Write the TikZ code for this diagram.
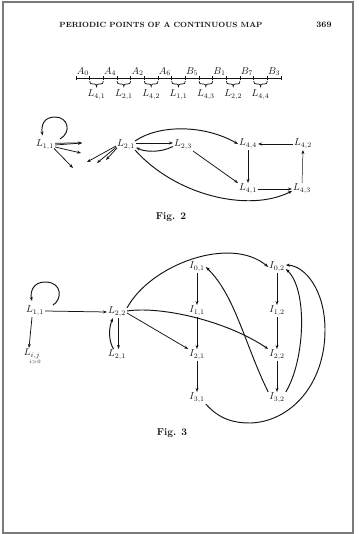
\documentclass[tikz,border=0pt]{standalone}
\usepackage{graphicx}
\usetikzlibrary{arrows.meta}
\definecolor{ink}{HTML}{141414}
\definecolor{framec}{HTML}{7A7A7A}
\begin{document}
\begin{tikzpicture}[x=1pt,y=-1pt,
  lbl/.style={inner sep=1pt, font=\fontsize{10}{12}\selectfont, text=ink},
  hdr/.style={inner sep=0pt, text=ink},
  arr/.style={draw=ink, line width=0.75pt, -{Stealth[length=4pt,width=3pt]}},
  carr/.style={arr, line width=0.95pt},
  thinarr/.style={arr, line width=0.5pt},
  axis/.style={draw=ink, line width=0.8pt},
  bracestyle/.style={draw=ink, line width=0.7pt}]
\useasboundingbox (0,0) rectangle (358,534);
\fill[white] (0,0) rectangle (358,534);
\draw[framec, line width=1.2pt] (3,2) rectangle (353,533);

% header
\node[hdr] (title) at (161,25) {\resizebox{203pt}{!}{\fontsize{7.5}{9}\selectfont\bfseries PERIODIC POINTS OF A CONTINUOUS MAP}};
\node[hdr] (page) at (324,25) {\fontsize{8.5}{10}\selectfont\bfseries 369};

% number line
\draw[axis] (76,78.5) -- (281,78.5);
\foreach \k in {0,...,15} \draw[axis] ({76+13.667*\k},76.5) -- ({76+13.667*\k},80.5);
\foreach \k in {1,3,...,13} {
  \pgfmathsetmacro{\xa}{76+13.667*\k}
  \pgfmathsetmacro{\xb}{76+13.667*(\k+1)}
  \pgfmathsetmacro{\xm}{76+13.667*(\k+0.5)}
  \draw[bracestyle] (\xa,81) .. controls (\xa,83.5) and (\xa+1,84) .. (\xa+3,84) -- (\xm-2,84)
     .. controls (\xm-0.7,84) and (\xm,85) .. (\xm,86.5)
     .. controls (\xm,85) and (\xm+0.7,84) .. (\xm+2,84) -- (\xb-3,84)
     .. controls (\xb-1,84) and (\xb,83.5) .. (\xb,81);
}
\foreach \lab [count=\m from 0] in {A_0,A_4,A_2,A_6,B_5,B_1,B_7,B_3}
  \node[lbl] (pt\m) at ({76+13.667*(2*\m+0.5)},71.5) {$\lab$};
\foreach \lab [count=\m from 0] in {L_{4,1},L_{2,1},L_{4,2},L_{1,1},L_{4,3},L_{2,2},L_{4,4}}
  \node[lbl] (iv\m) at ({76+13.667*(2*\m+1.5)},95) {$\lab$};

% ---------- Fig. 2 ----------
\node[lbl] (a11) at (45,145) {$L_{1,1}$};
\node[lbl] (b21) at (126,145) {$L_{2,1}$};
\node[lbl] (b23) at (183,145) {$L_{2,3}$};
\node[lbl] (b44) at (248,144) {$L_{4,4}$};
\node[lbl] (b42) at (303,144) {$L_{4,2}$};
\node[lbl] (b41) at (248,189) {$L_{4,1}$};
\node[lbl] (b43) at (302,189) {$L_{4,3}$};

\coordinate (la) at (60,139);
\draw[carr] (la) .. controls (72,132) and (68,117) .. (55,117) .. controls (44,117) and (41,125) .. (42.5,135.5);

\coordinate (f1) at (82,143);
\coordinate (f2) at (81,153);
\coordinate (f3) at (73,168);
\draw[arr] ([yshift=1.8pt]a11.east) -- (f1);
\draw[arr] ([yshift=0pt]a11.east) -- (f1);
\draw[arr] ([yshift=-2pt]a11.east) -- (f2);
\draw[arr] ([yshift=-3.5pt,xshift=-1pt]a11.east) -- (f3);

\coordinate (g1) at (87,162);
\coordinate (g2) at (97,163);
\coordinate (g3) at (106,160);
\draw[arr] ([yshift=-1pt]b21.west) -- (g1);
\draw[arr] ([yshift=-2pt,xshift=0.5pt]b21.west) -- (g2);
\draw[arr] ([yshift=-3pt,xshift=1pt]b21.west) -- (g3);

\draw[arr] ([yshift=2pt]b21.east) -- ([yshift=2pt]b23.west);
\draw[carr] ([yshift=-1.5pt]b23.west) .. controls (160,153) and (145,152) .. ([yshift=-2.5pt]b21.east);
\draw[carr] ([yshift=4pt,xshift=-1pt]b21.east) .. controls (160,124) and (205,125) .. (b44.west);
\draw[carr] ([yshift=-5pt,xshift=-1pt]b21.east) .. controls (175,195) and (248,213) .. ([yshift=-2pt]b43.west);
\draw[arr] (b23.south east) -- (b41.north west);
\draw[arr] (b42.west) -- (b44.east);
\draw[arr] (b44.south) -- (b41.north);
\draw[arr] (b41.east) -- (b43.west);
\draw[thinarr] (b43.north) -- (b42.south);

\node[lbl, font=\fontsize{10}{12}\selectfont\bfseries] (fig2) at (171,217) {Fig. 2};

% ---------- Fig. 3 ----------
\node[lbl] (c11) at (35,311) {$L_{1,1}$};
\node[lbl] (c22) at (117,312) {$L_{2,2}$};
\node[lbl] (c21) at (117,355) {$L_{2,1}$};
\node[lbl] (cij) at (32,354) {$L_{i,j}$};
\node[lbl, inner sep=0pt] (cijc) at (35,362.5) {$\scriptscriptstyle i>0$};

\node[lbl] (i01) at (197,267) {$I_{0,1}$};
\node[lbl] (i11) at (197,311) {$I_{1,1}$};
\node[lbl] (i21) at (197,355) {$I_{2,1}$};
\node[lbl] (i31) at (197,398) {$I_{3,1}$};
\node[lbl] (i02) at (277,267) {$I_{0,2}$};
\node[lbl] (i12) at (277,311) {$I_{1,2}$};
\node[lbl] (i22) at (277,355) {$I_{2,2}$};
\node[lbl] (i32) at (277,398) {$I_{3,2}$};

\coordinate (lb) at (53,305);
\draw[carr] (lb) .. controls (62,300) and (63,282) .. (45,282) .. controls (33,282) and (30,292) .. (32,301);

\draw[arr] (c11.east) -- (c22.west);
\draw[arr] ([xshift=-3pt]c11.south) -- ([xshift=-3pt]cij.north);
\draw[arr] ([xshift=1.5pt]c22.south) -- ([xshift=1.5pt]c21.north);
\draw[carr] ([xshift=-3.5pt]c21.north) .. controls (108,340) and (109,327) .. ([xshift=-4pt]c22.south);

\draw[arr] (i01) -- (i11);
\draw[arr] (i11) -- (i21);
\draw[arr] (i21) -- (i31);
\draw[arr] (i02) -- (i12);
\draw[arr] (i12) -- (i22);
\draw[arr] (i22) -- (i32);

\draw[carr] ([yshift=4pt]c22.east) .. controls (150,265) and (230,235) .. (i02.west);
\draw[carr] ([yshift=1pt]c22.east) .. controls (160,306) and (225,320) .. (i22.north west);
\draw[arr] ([yshift=-1pt]c22.east) -- (i21.north west);
\draw[carr] (i32.north west) .. controls (245,345) and (235,295) .. (i01.east);
\draw[carr] (i32.north east) .. controls (305,360) and (308,290) .. ([yshift=-2pt]i02.east);
\draw[carr] (i31.south east) .. controls (220,420) and (235,423) .. (250,423)
   .. controls (290,422) and (325,385) .. (325,330)
   .. controls (325,290) and (305,266) .. ([yshift=2pt]i02.east);

\node[lbl, font=\fontsize{10}{12}\selectfont\bfseries] (fig3) at (172,433) {Fig. 3};
\end{tikzpicture}
\end{document}
